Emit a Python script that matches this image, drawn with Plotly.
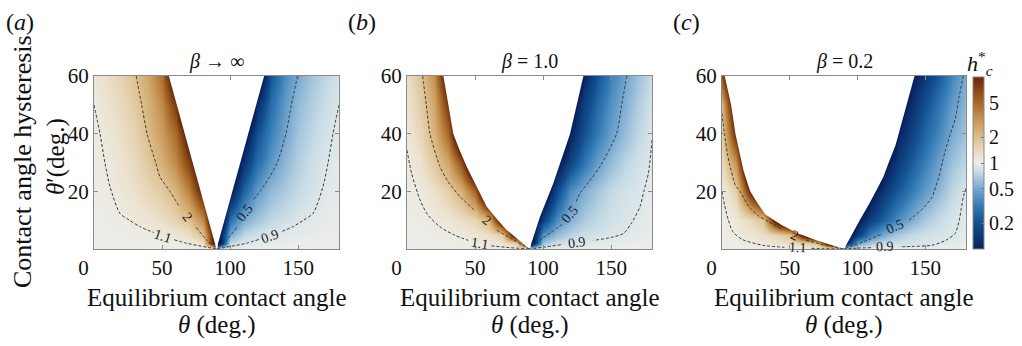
import plotly.graph_objects as go

# ---------------- data ----------------
THETA = [0, 10, 20, 30, 40, 50, 60, 70, 80, 89, 91, 100, 110, 120, 130, 140, 150, 160, 170, 180]
THETAP = [0, 2, 5, 10, 20, 30, 40, 50, 60]

# log10(h_c*) estimated on the grid (rows follow THETAP, columns follow THETA)
LOGH_A = [
    [0]*20,
    [0.001, 0.002, 0.004, 0.006, 0.01, 0.016, 0.025, 0.045, 0.12, 1.3, -1.3, -0.12, -0.045, -0.025, -0.016, -0.01, -0.006, -0.004, -0.002, -0.001],
    [0.004, 0.007, 0.012, 0.02, 0.03, 0.045, 0.07, 0.12, 0.29, 1.2, -1.2, -0.29, -0.12, -0.07, -0.045, -0.03, -0.02, -0.012, -0.007, -0.004],
    [0.008, 0.015, 0.03, 0.05, 0.08, 0.12, 0.19, 0.29, 0.55, 1.5, -1.5, -0.55, -0.29, -0.19, -0.12, -0.08, -0.05, -0.03, -0.015, -0.008],
    [0.015, 0.035, 0.065, 0.11, 0.17, 0.23, 0.36, 0.60, 1.08, 1.6, -1.6, -1.08, -0.60, -0.36, -0.23, -0.17, -0.11, -0.065, -0.035, -0.015],
    [0.025, 0.045, 0.09, 0.15, 0.24, 0.37, 0.56, 0.88, 1.36, 1.6, -1.6, -1.36, -0.88, -0.56, -0.37, -0.24, -0.15, -0.09, -0.045, -0.025],
    [0.035, 0.07, 0.12, 0.19, 0.31, 0.47, 0.70, 1.15, 1.5, 1.6, -1.6, -1.5, -1.15, -0.70, -0.47, -0.31, -0.19, -0.12, -0.07, -0.035],
    [0.045, 0.095, 0.15, 0.23, 0.36, 0.55, 0.93, 1.8, 1.8, 1.8, -1.8, -1.8, -1.8, -0.93, -0.55, -0.36, -0.23, -0.15, -0.095, -0.045],
    [0.07, 0.125, 0.19, 0.29, 0.42, 0.68, 1.32, 1.6, 1.6, 1.6, -1.6, -1.6, -1.6, -1.32, -0.68, -0.42, -0.29, -0.19, -0.125, -0.07],
]
LOGH_B = [
    [0]*20,
    [0.001, 0.003, 0.006, 0.01, 0.018, 0.04, 0.06, 0.1, 0.22, 1.3, -1.2, -0.2, -0.09, -0.055, -0.04, -0.03, -0.02, -0.012, -0.007, -0.003],
    [0.004, 0.008, 0.015, 0.028, 0.045, 0.07, 0.12, 0.2, 1.33, 1.6, -1.22, -0.4, -0.22, -0.14, -0.09, -0.065, -0.05, -0.035, -0.02, -0.008],
    [0.008, 0.02, 0.04, 0.07, 0.12, 0.18, 0.36, 1.3, 1.6, 1.6, -1.38, -0.8, -0.42, -0.27, -0.17, -0.11, -0.075, -0.052, -0.035, -0.015],
    [0.02, 0.05, 0.11, 0.21, 0.36, 0.72, 1.7, 1.7, 1.7, 1.7, -1.7, -1.26, -0.75, -0.41, -0.28, -0.18, -0.11, -0.07, -0.05, -0.02],
    [0.035, 0.1, 0.24, 0.42, 0.8, 1.57, 1.7, 1.7, 1.7, 1.7, -1.7, -1.7, -1.08, -0.78, -0.52, -0.34, -0.22, -0.13, -0.075, -0.035],
    [0.06, 0.17, 0.35, 0.7, 1.45, 1.7, 1.7, 1.7, 1.7, 1.7, -1.7, -1.7, -1.7, -0.99, -0.7, -0.49, -0.34, -0.22, -0.12, -0.05],
    [0.09, 0.22, 0.42, 0.93, 1.5, 1.7, 1.7, 1.7, 1.7, 1.7, -1.7, -1.7, -1.7, -1.18, -0.8, -0.57, -0.4, -0.27, -0.16, -0.07],
    [0.12, 0.27, 0.52, 1.24, 1.7, 1.7, 1.7, 1.7, 1.7, 1.7, -1.7, -1.7, -1.7, -1.7, -0.97, -0.68, -0.47, -0.32, -0.2, -0.1],
]
LOGH_C = [
    [0]*20,
    [0.004, 0.015, 0.037, 0.06, 0.09, 0.13, 0.19, 0.32, 1.37, 1.7, -1.11, -0.34, -0.17, -0.11, -0.08, -0.065, -0.055, -0.045, -0.025, -0.01],
    [0.01, 0.04, 0.07, 0.12, 0.18, 0.28, 1.15, 1.7, 1.7, 1.7, -1.21, -0.82, -0.45, -0.27, -0.17, -0.11, -0.08, -0.06, -0.048, -0.02],
    [0.02, 0.06, 0.14, 0.27, 1.18, 1.7, 1.7, 1.7, 1.7, 1.7, -1.7, -1.04, -0.8, -0.6, -0.42, -0.28, -0.17, -0.1, -0.06, -0.03],
    [0.04, 0.2, 0.95, 1.575, 1.7, 1.7, 1.7, 1.7, 1.7, 1.7, -1.7, -1.7, -1.09, -0.84, -0.66, -0.5, -0.36, -0.24, -0.12, -0.045],
    [0.14, 0.52, 1.59, 1.7, 1.7, 1.7, 1.7, 1.7, 1.7, 1.7, -1.7, -1.7, -1.7, -1.08, -0.82, -0.64, -0.48, -0.33, -0.2, -0.12],
    [0.22, 1.02, 1.7, 1.7, 1.7, 1.7, 1.7, 1.7, 1.7, 1.7, -1.7, -1.7, -1.7, -1.7, -0.99, -0.78, -0.6, -0.44, -0.29, -0.19],
    [0.35, 1.32, 1.7, 1.7, 1.7, 1.7, 1.7, 1.7, 1.7, 1.7, -1.7, -1.7, -1.7, -1.7, -1.15, -0.9, -0.7, -0.52, -0.36, -0.24],
    [0.85, 1.6, 1.7, 1.7, 1.7, 1.7, 1.7, 1.7, 1.7, 1.7, -1.7, -1.7, -1.7, -1.7, -1.7, -1.04, -0.85, -0.65, -0.45, -0.28],
]

# out-of-range (white) regions
WHITE_A_X = [90, 55, 125, 90]
WHITE_A_Y = [0, 60, 60, 0]
WHITE_B_X = [90, 84.9, 77, 73.2, 66.8, 58.5, 52.9, 43.8, 38, 34, 30.4, 26.7, 129.6, 124.7, 119.8, 107.5, 97.7, 90]
WHITE_B_Y = [0, 2, 5, 6.6, 10, 14.7, 20, 28.6, 35, 40, 50, 60, 60, 50, 40, 22.8, 11.2, 0]
WHITE_C_X = [90, 76.5, 69, 58.3, 56, 44, 38, 32, 26, 20.8, 16, 14.5, 12.5, 9.9, 6.7, 2,
             142, 136, 130.5, 128, 123, 119, 113.5, 109, 101.6, 99, 95.8, 92.3, 90]
WHITE_C_Y = [0, 2, 3.1, 5, 5.4, 8.3, 10, 12, 16, 20, 27, 30, 34, 40, 50, 60,
             60, 50, 40, 36, 30, 25, 20, 16, 10, 7.7, 5, 2, 0]

# dashed contour lines (None = gap where the label sits)
A_11_X = [0, 4.4, 8, 11.8, 19, 26, 34, 44, None, 59, 68, 90]
A_11_Y = [50, 40, 30, 21.6, 12.4, 10, 7.7, 5.7, None, 3.2, 2, 0]
A_2_X = [31, 35, 39, 45.3, 48.5, 55.8, 63, None, 75, 83, 90]
A_2_Y = [60, 50, 40, 30, 25, 20, 14.5, None, 7.5, 3, 0]
A_05_X = [149.5, 145, 141, 134.7, 129, 122, 117, None, 105, 97, 90]
A_05_Y = [60, 50, 40, 30, 25, 20, 17, None, 7.5, 3, 0]
A_09_X = [180, 175.6, 172, 168.2, 161, 154, 146, 137, None, 121, 112, 90]
A_09_Y = [50, 40, 30, 21.6, 12.4, 10, 7.7, 5.9, None, 3.3, 2, 0]

B_11_X = [0, 3.4, 9.6, 15, 24.2, 35, 45, None, 62, 75, 90]
B_11_Y = [34.3, 26.2, 17, 12, 7.7, 4.8, 3, None, 1.1, 0.5, 0]
B_2_X = [11.5, 14.2, 16.9, 24.2, 30, 38.9, 50, None, 66, 78, 90]
B_2_Y = [60, 50, 40, 28.6, 23.5, 18.2, 13.3, None, 6.5, 3.2, 0]
B_05_X = [161.4, 157.7, 154, 141.8, 134, 127, 124, None, 114, 100, 90]
B_05_Y = [60, 50, 40, 28.6, 23.5, 19.3, 16, None, 8.5, 3.8, 0]
B_09_X = [180, 177.3, 174, 171.2, 165, 159, 150, 137, None, 113, 100, 90]
B_09_Y = [37.8, 26.2, 20, 14.7, 9, 5.4, 4, 3, None, 1.5, 0.6, 0]

C_11_X = [0, 2, 4.7, 8, 15, 30, 46, None, 66, 75, 90]
C_11_Y = [20, 15, 10, 6, 3.3, 1.3, 0.6, None, 0.25, 0.15, 0]
C_2_X = [0, 1.8, 4, 5.3, 10, 13.3, 20, 27, 34, 44, None, 62, 75, 90]
C_2_Y = [47, 40, 33, 30, 22, 20, 14.5, 11.5, 9.5, 7, None, 3, 1.5, 0]
C_05_X = [178, 175, 172, 168.5, 164.6, 162.5, 160, 156.5, 155, 148, 138, None, 117, 105, 90]
C_05_Y = [60, 53, 45, 40, 34, 30, 25, 20, 18, 14, 10, None, 5, 2.6, 0]
C_09_X = [180, 178, 176.5, 175, 172, 165, 155, 140, 131, None, 110, 100, 90]
C_09_Y = [21, 18, 14, 10, 5.4, 3, 1.3, 0.9, 0.75, None, 0.45, 0.3, 0]

X_TICKS = [0, 50, 100, 150]
Y_TICKS = [20, 40, 60]
CBAR_TICKS = [0.2, 0.5, 1, 2, 5]
CBAR_LOG = [-0.699, -0.301, 0, 0.301, 0.699]

# ---------------- figure ----------------
W, H = 1022, 346
def px_x(v):
    return v / W
def px_y(v):
    return 1 - v / H

COLORSCALE = [
    [0.00, "rgb(8,32,92)"],
    [0.15, "rgb(18,80,145)"],
    [0.25, "rgb(50,122,180)"],
    [0.35, "rgb(118,168,208)"],
    [0.45, "rgb(200,220,230)"],
    [0.50, "rgb(236,238,234)"],
    [0.55, "rgb(236,226,206)"],
    [0.65, "rgb(220,190,140)"],
    [0.75, "rgb(200,150,85)"],
    [0.85, "rgb(168,104,40)"],
    [0.93, "rgb(135,70,20)"],
    [1.00, "rgb(100,40,8)"],
]

SERIF = "Liberation Serif, Times New Roman, serif"
fig = go.Figure()

panels = [
    ("x", "y", LOGH_A, WHITE_A_X, WHITE_A_Y,
     [(A_11_X, A_11_Y), (A_2_X, A_2_Y), (A_05_X, A_05_Y), (A_09_X, A_09_Y)]),
    ("x2", "y2", LOGH_B, WHITE_B_X, WHITE_B_Y,
     [(B_11_X, B_11_Y), (B_2_X, B_2_Y), (B_05_X, B_05_Y), (B_09_X, B_09_Y)]),
    ("x3", "y3", LOGH_C, WHITE_C_X, WHITE_C_Y,
     [(C_11_X, C_11_Y), (C_2_X, C_2_Y), (C_05_X, C_05_Y), (C_09_X, C_09_Y)]),
]

for xa, ya, z, wx, wy, lines in panels:
    fig.add_trace(go.Heatmap(x=THETA, y=THETAP, z=z, zsmooth="best",
                             coloraxis="coloraxis", xaxis=xa, yaxis=ya,
                             hoverinfo="skip"))
    fig.add_trace(go.Scatter(x=wx, y=wy, fill="toself", fillcolor="white",
                             mode="lines", line=dict(width=0, color="white"),
                             xaxis=xa, yaxis=ya, showlegend=False, hoverinfo="skip"))
    for lx, ly in lines:
        fig.add_trace(go.Scatter(x=lx, y=ly, mode="lines", connectgaps=False,
                                 line=dict(color="#3a3a3a", width=1, dash="3px,2px",
                                           shape="spline", smoothing=0.7),
                                 xaxis=xa, yaxis=ya, showlegend=False, hoverinfo="skip"))

# contour labels: (axis suffix, text, theta, theta', angle)
LABELS = [
    ("", "1.1", 51, 4.4, 19), ("", "2", 69, 11, 52), ("", "0.5", 111, 12.5, -52), ("", "0.9", 129, 4.5, -19),
    ("2", "1.1", 53.6, 1.8, 9), ("2", "2", 58.5, 9.8, 38), ("2", "0.5", 119.5, 12, -48), ("2", "0.9", 124.7, 2.2, -8),
    ("3", "1.1", 56, 0.4, 3), ("3", "2", 53.5, 4.6, 25), ("3", "0.5", 127.5, 7.9, -24), ("3", "0.9", 120, 0.9, -3),
]
annotations = []
for ax, t, lx, ly, ang in LABELS:
    annotations.append(dict(text=t, x=lx, y=ly, xref="x" + ax, yref="y" + ax, showarrow=False,
                            xanchor="center", yanchor="middle",
                            textangle=ang, font=dict(family=SERIF, size=14, color="#222")))

def note(text, x, y, size, angle=0):
    return dict(text=text, x=px_x(x), y=px_y(y), xref="paper", yref="paper", showarrow=False,
                xanchor="center", yanchor="middle", textangle=angle,
                font=dict(family=SERIF, size=size, color="#111"))

dom_x = [(94, 339), (407, 652), (722, 966)]
dom_y = [px_y(249), px_y(76)]
titles = ["<i>β</i> → ∞", "<i>β</i> = 1.0", "<i>β</i> = 0.2"]
letters = [("(<i>a</i>)", 20), ("(<i>b</i>)", 362), ("(<i>c</i>)", 686)]
# the "0" label sits a little left of the frame edge in the original
x_ticktext = [str(v) + ("\u2007\u2007" if v == 0 else "") for v in X_TICKS]

axis_common = dict(showgrid=False, zeroline=False, showline=True, linecolor="#8a8a8a",
                   linewidth=1.3, mirror="ticks", ticks="inside", ticklen=4, tickcolor="#8a8a8a",
                   automargin=False,
                   tickfont=dict(family=SERIF, size=21, color="#111"))
layout = dict(width=W, height=H, margin=dict(l=0, r=0, t=0, b=0, pad=0), autosize=False,
              paper_bgcolor="white", plot_bgcolor="white", showlegend=False,
              font=dict(family=SERIF, color="#111"))
for i, (x0, x1) in enumerate(dom_x):
    sfx = "" if i == 0 else str(i + 1)
    layout["xaxis" + sfx] = dict(axis_common, domain=[px_x(x0), px_x(x1)], range=[0, 180],
                                 tickvals=X_TICKS, ticktext=x_ticktext, anchor="y" + sfx)
    layout["yaxis" + sfx] = dict(axis_common, domain=dom_y, range=[0, 60],
                                 tickvals=Y_TICKS, anchor="x" + sfx)
    cx = (x0 + x1) / 2
    annotations.append(note(titles[i], cx, 62, 20))
    annotations.append(note("Equilibrium contact angle", cx, 297, 25))
    annotations.append(note("<i>θ</i> (deg.)", cx, 325, 25))
for t, lx in letters:
    annotations.append(note(t, lx, 22, 24))
annotations.append(note("Contact angle hysteresis", 22, 162, 26, -90))
annotations.append(note("<i>θ</i>′(deg.)", 56, 157, 25, -90))
annotations.append(note("<i>h</i><sup>*</sup><sub><i>c</i></sub>", 980, 63, 22))

layout["annotations"] = annotations
layout["coloraxis"] = dict(
    colorscale=COLORSCALE, cmin=-1, cmax=1,
    colorbar=dict(x=px_x(973), xanchor="left", y=px_y(163), yanchor="middle",
                  len=(249 - 77) / H, lenmode="fraction", thickness=11, thicknessmode="pixels",
                  xpad=0, ypad=0, outlinewidth=1, outlinecolor="#888",
                  tickvals=CBAR_LOG, ticktext=[str(v) for v in CBAR_TICKS],
                  ticks="inside", ticklen=3, tickcolor="#777",
                  tickfont=dict(family=SERIF, size=20, color="#111")))
fig.update_layout(**layout)
fig.write_html("out.html", config={"displayModeBar": False},
               post_script="document.body.style.margin='0';document.body.style.padding='0';")
